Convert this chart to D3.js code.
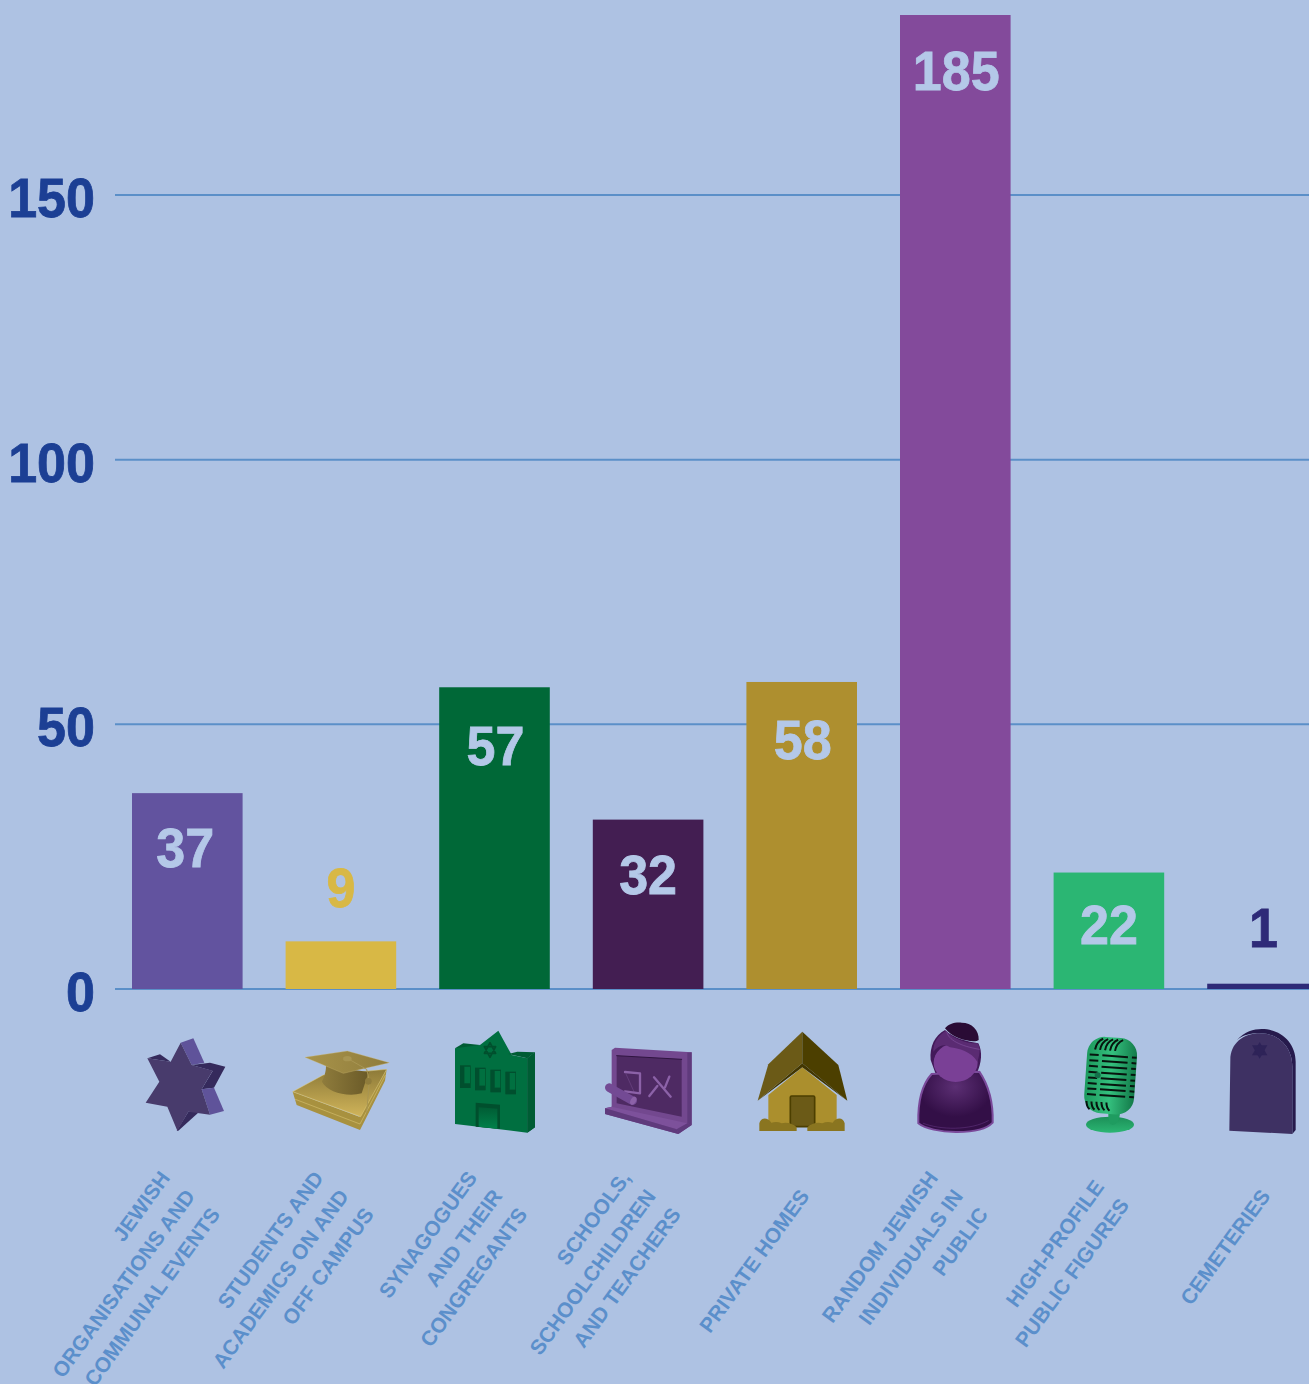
<!DOCTYPE html>
<html>
<head>
<meta charset="utf-8">
<title>Targets of antisemitic incidents</title>
<script src="https://cdn.jsdelivr.net/npm/d3@7"></script>
<style>
  html, body { margin: 0; padding: 0; background: #aec2e3; overflow: hidden; }
  svg { display: block; font-family: "Liberation Sans", Arial, sans-serif; }
</style>
</head>
<body>
<div id="chart"></div>
<script>
const categories = ["star", "cap", "synagogue", "board", "house", "person", "mic", "grave"];
const labels = [
  ["JEWISH", "ORGANISATIONS AND", "COMMUNAL EVENTS"],
  ["STUDENTS AND", "ACADEMICS ON AND", "OFF CAMPUS"],
  ["SYNAGOGUES", "AND THEIR", "CONGREGANTS"],
  ["SCHOOLS,", "SCHOOLCHILDREN", "AND TEACHERS"],
  ["PRIVATE HOMES"],
  ["RANDOM JEWISH", "INDIVIDUALS IN", "PUBLIC"],
  ["HIGH-PROFILE", "PUBLIC FIGURES"],
  ["CEMETERIES"],
];
const values = [37, 9, 57, 32, 58, 185, 22, 1];
const colors = ["#62539f", "#d8b845", "#006837", "#431e52", "#ae8f2f", "#834a9b", "#2bb673", "#2e2a78"];
const yTicks = [0, 50, 100, 150];

const width = 1309;
const height = 1384;
const bg = "#aec2e3";
const axisBlue = "#1c3f94";
const gridBlue = "#5b8fc8";
const labelBlue = "#5b8fcb";
/* the big numbers are a slightly squeezed, slightly fattened Liberation bold */
const numberSize = 56;
const squeeze = 0.93;
const numberStroke = 0.8;
/* hand placed in the original, so they don't sit at one fixed distance from the bar top */
const numberDy = [74, -34, 78, 74, 77, 75, 71, -37];
const numberDx = [-2, 0, 1, 0, 1, 1, 0, 1];

const svg = d3.select("#chart").append("svg").attr("width", width).attr("height", height);
svg.append("rect").attr("width", width).attr("height", height).attr("fill", bg);

const defs = svg.append("defs");
function gradient(id, stops, x2 = 0, y2 = 1) {
  const g = defs.append("linearGradient").attr("id", id)
    .attr("x1", 0).attr("y1", 0).attr("x2", x2).attr("y2", y2);
  stops.forEach((s, i) => g.append("stop").attr("offset", i / (stops.length - 1)).attr("stop-color", s));
}
gradient("capTop", ["#8d7a38", "#d0b45a"]);
gradient("capBody", ["#8f7c3c", "#6a5a28"], 1, 0);
gradient("capBoard", ["#a8934a", "#8f7c3c"], 1, 0);
gradient("door", ["#005c34", "#00804a"]);
gradient("micBase", ["#1c8f58", "#2bb673"]);
gradient("micBody", ["#1d9a5d", "#34c07e", "#137a49"], 1, 0);
const bodyGrad = defs.append("radialGradient").attr("id", "personBody").attr("cy", 0.25);
bodyGrad.append("stop").attr("offset", 0).attr("stop-color", "#5c2f74");
bodyGrad.append("stop").attr("offset", 1).attr("stop-color", "#330f47");
defs.append("filter").attr("id", "soft").append("feGaussianBlur").attr("stdDeviation", 2);

/* y runs past 150 up to the top of the tallest bar, which stops just under the page edge */
const y = d3.scaleLinear().domain([0, 184]).range([989, 15]).clamp(true);
const x = d3.scaleBand().domain(categories).range([110.5, 1339.3]).paddingInner(0.28).paddingOuter(0.14);

svg.append("g")
  .attr("transform", "translate(115,0)")
  .call(d3.axisLeft(y).tickValues(yTicks).tickSize(-1194).tickPadding(20).offset(0))
  .call((g) => g.select(".domain").remove())
  .call((g) => g.selectAll(".tick line").attr("stroke", gridBlue).attr("stroke-width", 2))
  .call((g) =>
    g.selectAll(".tick text")
      .attr("x", -20 / squeeze)
      .attr("dy", 22)
      .attr("transform", `scale(${squeeze},1)`)
      .attr("fill", axisBlue)
      .attr("stroke", axisBlue)
      .attr("stroke-width", numberStroke)
      .attr("font-family", "'Liberation Sans', Arial, sans-serif")
      .attr("font-weight", "bold")
      .attr("font-size", numberSize)
  );

svg.append("g")
  .selectAll("rect")
  .data(values)
  .join("rect")
  .attr("x", (d, i) => x(categories[i]))
  .attr("y", (d) => y(d))
  .attr("width", x.bandwidth())
  .attr("height", (d) => y(0) - y(d))
  .attr("fill", (d, i) => colors[i]);

/* short bars carry their number above, in the bar colour */
const numberColor = (d, i) => (d < 20 ? colors[i] : "#b4c8e8");
svg.append("g")
  .selectAll("text")
  .data(values)
  .join("text")
  .attr("transform", (d, i) => {
    const tx = x(categories[i]) + x.bandwidth() / 2 + numberDx[i];
    return `translate(${tx},${y(d) + numberDy[i]}) scale(${squeeze},1)`;
  })
  .attr("text-anchor", "middle")
  .attr("font-weight", "bold")
  .attr("font-size", numberSize)
  .attr("fill", numberColor)
  .attr("stroke", numberColor)
  .attr("stroke-width", numberStroke)
  .text((d) => d);

/* category labels, right aligned lines in a rotated block */
const lineHeight = 31;
categories.forEach((c, i) => {
  svg.append("g")
    .attr("transform", `translate(${x(c) + x.bandwidth() / 2 + 3},1192) rotate(-54)`)
    .selectAll("text")
    .data(labels[i])
    .join("text")
    .attr("text-anchor", "end")
    .attr("y", (d, j) => (j - (labels[i].length - 1) / 2) * lineHeight + 7)
    .attr("font-weight", "bold")
    .attr("font-size", 21)
    .attr("fill", labelBlue)
    .text((d) => d);
});

/* icons: drawn at 3x in their own little space, then scaled down */
function poly(g, pts, fill) {
  return g.append("polygon").attr("points", pts).attr("fill", fill);
}
function path(g, d, fill) {
  return g.append("path").attr("d", d).attr("fill", fill);
}
function stroke(g, d, color, w) {
  return g.append("path").attr("d", d).attr("fill", "none").attr("stroke", color)
    .attr("stroke-width", w).attr("stroke-linecap", "round").attr("stroke-linejoin", "round");
}

const icons = {
  star(g) {
    poly(g, "212,98 250,85 283,158 245,165", "#5f539a");
    poly(g, "112,145 150,133 182,155", "#352a5c");
    poly(g, "245,165 300,158 346,170 312,233 275,238 308,183", "#352a5c");
    poly(g, "275,238 312,233 342,303 300,314", "#5f539a");
    poly(g, "235,305 268,305 205,362 200,362", "#352a5c");
    poly(g, "212,98 245,165 308,182 275,238 300,314 235,305 202,362 172,290 107,278 148,215 112,145 182,155", "#483b6c");
  },
  cap(g) {
    poly(g, "548,245 560,285 750,360 825,212 830,178 748,320", "#a8913f");
    stroke(g, "M556,268 L750,342 L826,196", "#e0cc7d", 1.5);
    poly(g, "548,245 640,195 830,178 752,320", "url(#capTop)").attr("stroke", "#e0cc7d").attr("stroke-width", 1.5);
    path(g, "M648,168 C648,190 640,205 636,215 C650,245 710,262 755,250 L776,186 Z", "url(#capBody)");
    poly(g, "585,142 712,123 838,158 700,190", "url(#capBoard)").attr("stroke", "#cdb971").attr("stroke-width", 1);
    stroke(g, "M712,145 L770,178 L778,212 L770,308", "#a89552", 3);
    g.append("ellipse").attr("cx", 712).attr("cy", 146).attr("rx", 13).attr("ry", 8).attr("fill", "#a89552");
    g.append("circle").attr("cx", 775).attr("cy", 214).attr("r", 10).attr("fill", "#8f7c3c");
  },
  synagogue(g) {
    poly(g, "1035,115 1060,100 1110,105 1085,118", "#005c34");
    poly(g, "1165,62 1222,125 1275,127 1252,145 1252,368 1275,352 1275,127 1222,125", "#00593a");
    poly(g, "1035,115 1110,105 1165,62 1205,135 1252,145 1252,368 1035,342", "#006f40");
    poly(g, "1222,125 1275,127 1252,145 1195,132", "#005c34");
    poly(g, "1252,145 1275,127 1275,352 1252,368", "#005c34");
    const w = g.append("g").attr("filter", "url(#soft)");
    [[1050, 166], [1095, 173], [1141, 179], [1186, 185]].forEach((p) => {
      w.append("rect").attr("x", p[0]).attr("y", p[1]).attr("width", 32).attr("height", 68).attr("fill", "#004f2d");
      w.append("rect").attr("x", p[0] + 13).attr("y", p[1] + 4).attr("width", 17).attr("height", 50).attr("fill", "#006f40");
    });
    poly(g, "1097,278 1170,284 1170,356 1097,350", "#004f2d");
    poly(g, "1106,292 1162,296 1162,356 1106,350", "url(#door)");
    stroke(g, "M1140,98 L1157,130 L1123,130 Z M1140,142 L1157,110 L1123,110 Z", "#004f2d", 5);
  },
  board(g) {
    poly(g, "125,120 135,113 365,127 365,345 325,372 105,312 105,295 125,290", "#73488f");
    poly(g, "352,128 365,127 365,345 352,340", "#5f3a7c");
    poly(g, "140,137 335,148 335,320 140,280", "#4e2a63");
    stroke(g, "M140,137 L335,148", "#2f1440", 3);
    poly(g, "105,295 125,290 352,340 320,358", "#7d519b");
    poly(g, "105,295 320,358 325,372 105,312", "#5f3a7c");
    poly(g, "320,358 352,340 365,345 325,372", "#5f3a7c");
    stroke(g, "M165,186 L210,190 L210,250 L165,244", "#8c62a8", 7);
    stroke(g, "M168,192 L192,245", "#8c62a8", 1);
    stroke(g, "M252,202 L302,260 M298,200 L285,232 M262,228 L238,258", "#8c62a8", 7);
    stroke(g, "M118,233 L188,272", "#734a94", 26);
    g.append("ellipse").attr("cx", 190).attr("cy", 272).attr("rx", 8).attr("ry", 13)
      .attr("transform", "rotate(30 190 272)").attr("fill", "#8c62a8");
  },
  house(g) {
    poly(g, "595,255 697,172 800,255 800,342 595,342", "#ab8f2d");
    poly(g, "563,272 697,160 832,272 697,172", "#423600");
    poly(g, "697,65 697,160 563,272 595,163", "#6b5a17");
    poly(g, "697,65 805,165 832,272 697,160", "#4c3f00");
    g.append("rect").attr("x", 661).attr("y", 258).attr("width", 73).attr("height", 92).attr("rx", 4)
      .attr("fill", "#6b5a17").attr("stroke", "#4c3f00").attr("stroke-width", 5);
    path(g, "M568,363 L568,340 C572,322 592,320 604,338 C615,335 625,335 635,340 C650,336 668,340 680,352 L680,363 Z", "#8a7520");
    path(g, "M712,363 L712,352 C724,340 742,336 757,340 C767,335 777,335 788,338 C800,320 820,322 824,340 L824,363 Z", "#8a7520");
  },
  person(g) {
    path(g, "M1175,38 C1205,38 1228,60 1226,90 C1215,100 1150,90 1125,55 C1135,42 1155,36 1175,38 Z", "#2a0b35");
    path(g, "M1125,60 C1095,75 1078,110 1082,150 L1100,200 L1220,190 C1235,160 1238,125 1225,100 C1195,95 1150,85 1125,60 Z", "#431a5a");
    path(g, "M1085,192 C1055,225 1043,270 1045,340 C1085,372 1230,378 1268,338 C1270,275 1255,225 1228,185 Z", "url(#personBody)")
      .attr("stroke", "#7a4a9a").attr("stroke-width", 6);
    stroke(g, "M1060,340 C1110,360 1200,362 1255,332", "#6a3a88", 1.5);
    g.append("ellipse").attr("cx", 1157).attr("cy", 158).attr("rx", 66).attr("ry", 58).attr("fill", "#7a4096");
    path(g, "M1090,125 C1105,105 1125,100 1140,112 C1165,115 1205,125 1222,155 C1232,130 1230,105 1222,100 C1190,100 1150,88 1128,62 C1105,75 1088,100 1090,125 Z", "#5a2b72");
    stroke(g, "M1130,65 C1135,90 1170,108 1228,118", "#8a5aa8", 1.5);
  },
  mic(g) {
    g.append("ellipse").attr("cx", 210).attr("cy", 494).attr("rx", 72).attr("ry", 24).attr("fill", "url(#micBase)");
    path(g, "M205,460 L240,460 C238,480 232,494 218,495 C208,494 204,480 205,460 Z", "#1f9c60");
    const body = g.append("g").attr("transform", "rotate(4 212 345)");
    body.append("rect").attr("x", 137).attr("y", 232).attr("width", 150).attr("height", 230).attr("rx", 52)
      .attr("fill", "url(#micBody)");
    const slits = body.append("g").attr("stroke", "#07140e").attr("stroke-width", 6).attr("fill", "none");
    [288, 305, 322, 340, 357, 374, 390, 407].forEach((r) => {
      slits.append("path").attr("d", `M145,${r} L172,${r} M183,${r} L260,${r} M272,${r} L286,${r}`);
    });
    [160, 175, 190, 205, 220].forEach((c) => {
      slits.append("path").attr("d", `M${c},272 C${c + 2},255 ${c + 8},245 ${c + 22},238`);
      slits.append("path").attr("d", `M${c - 15},428 C${c - 14},440 ${c - 10},448 ${c - 4},452`);
    });
    g.append("circle").attr("cx", 173).attr("cy", 346).attr("r", 9).attr("fill", "#14704a");
  },
  grave(g) {
    path(g, "M590,240 C615,215 640,207 665,207 C725,207 767,250 767,305 L767,510 L757,522 L757,320 C757,260 715,220 660,220 C630,220 610,225 590,240 Z", "#261a4c");
    path(g, "M568,512 L571,300 C571,250 610,220 660,220 C715,220 757,260 757,320 L757,522 Z", "#3e3163");
    poly(g, "659,246 682,286 636,286", "#2e2358");
    poly(g, "659,296 682,256 636,256", "#2e2358");
  },
};

/* where each 3x icon drawing starts, relative to its bar centre */
const iconOrigin = { star: [110, 1010], cap: [110, 1010], synagogue: [110, 1010], board: [570, 1010],
  house: [570, 1010], person: [570, 1010], mic: [1040, 960], grave: [1040, 960] };
const iconCentre = { star: 187.3, cap: 340.9, synagogue: 494.5, board: 648.1,
  house: 801.7, person: 955.3, mic: 1108.9, grave: 1262.5 };

categories.forEach((c) => {
  const dx = x(c) + x.bandwidth() / 2 - iconCentre[c] + iconOrigin[c][0];
  const g = svg.append("g").attr("transform", `translate(${dx},${iconOrigin[c][1]}) scale(${1 / 3})`);
  icons[c](g);
});
</script>
</body>
</html>
